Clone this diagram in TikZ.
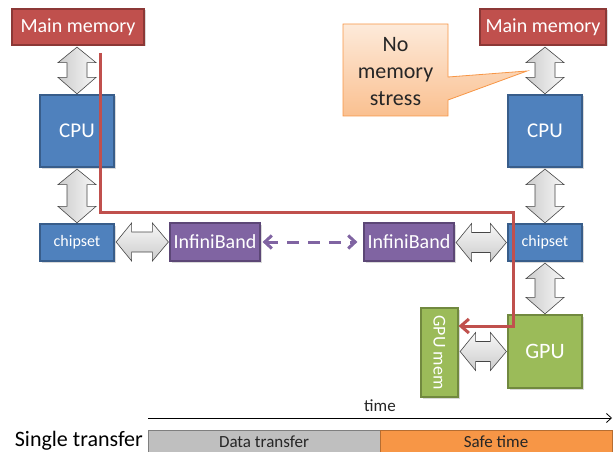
\documentclass[tikz,border=0pt]{standalone}
\usepackage{fontspec}
\setmainfont{Carlito}
\usetikzlibrary{calc,arrows.meta,shadows}
\definecolor{memred}{HTML}{C0504D}
\definecolor{memredd}{HTML}{8C3836}
\definecolor{cpublue}{HTML}{4F81BD}
\definecolor{cpublued}{HTML}{385D8A}
\definecolor{ibpurple}{HTML}{8064A2}
\definecolor{ibpurpled}{HTML}{5C4776}
\definecolor{gpugreen}{HTML}{9BBB59}
\definecolor{gpugreend}{HTML}{71893F}
\definecolor{calfilla}{HTML}{FDEADA}
\definecolor{calfillb}{HTML}{FAC090}
\definecolor{calline}{HTML}{F79646}
\definecolor{safeor}{HTML}{F79646}
\definecolor{safeord}{HTML}{B66D31}
\definecolor{dtgray}{HTML}{BFBFBF}
\definecolor{dtgrayd}{HTML}{7F7F7F}
\definecolor{txtdark}{HTML}{262626}
\newcommand\fsz[1]{\fontsize{#1}{#1}\selectfont}
\newcommand\vbig[2]{%
 \path[bigarr,left color=gray!40,right color=gray!6] let \p1=(#1), \p2=(#2) in
 (\x2,\y1-1.5pt) -- (\x2+19pt,\y1-17pt) -- (\x2+10pt,\y1-17pt) -- (\x2+10pt,\y2+17pt) -- (\x2+19pt,\y2+17pt) -- (\x2,\y2+0.5pt) -- (\x2-19pt,\y2+17pt) -- (\x2-10pt,\y2+17pt) -- (\x2-10pt,\y1-17pt) -- (\x2-19pt,\y1-17pt) -- cycle;}
\newcommand\hbig[2]{%
 \path[bigarr,top color=gray!6,bottom color=gray!40] let \p1=(#1), \p2=(#2) in
 (\x1+1.5pt,\y2) -- (\x1+17pt,\y2+19pt) -- (\x1+17pt,\y2+10pt) -- (\x2-17pt,\y2+10pt) -- (\x2-17pt,\y2+19pt) -- (\x2-1pt,\y2) -- (\x2-17pt,\y2-19pt) -- (\x2-17pt,\y2-10pt) -- (\x1+17pt,\y2-10pt) -- (\x1+17pt,\y2-19pt) -- cycle;}
\begin{document}
\begin{tikzpicture}[x=1pt,y=-1pt,
  box/.style={draw, line width=1.2pt, inner sep=0pt, text=white,
    drop shadow={opacity=0.3, shadow xshift=1.5pt, shadow yshift=-1.5pt}},
  membox/.style={box, fill=memred, draw=memredd, minimum height=36, font=\fsz{20}},
  cpubox/.style={box, fill=cpublue, draw=cpublued, minimum width=74, minimum height=72, font=\fsz{21}},
  chipbox/.style={box, fill=cpublue, draw=cpublued, minimum width=74, minimum height=37, font=\fsz{16}},
  ibbox/.style={box, fill=ibpurple, draw=ibpurpled, minimum width=90, minimum height=38, font=\fsz{20}},
  gpubox/.style={box, fill=gpugreen, draw=gpugreend},
  bigarr/.style={draw=gray!55!black, line width=0.6pt},
  redpath/.style={draw=memred, line width=3pt},
  ibline/.style={draw=ibpurple, line width=3pt, dash pattern=on 12pt off 9pt},
  barbox/.style={draw, line width=1pt, inner sep=0pt, minimum width=232, minimum height=23, font=\fsz{17}, text=txtdark},
  callout/.style={draw=calline, line width=0.8pt, top color=calfilla, bottom color=calfillb}
]
\useasboundingbox (0,0) rectangle (614,452);

% left column
\node[membox, minimum width=132] (mm1) at (78,27) {Main memory};
\node[cpubox] (cpu1) at (77,131) {CPU};
\node[chipbox] (chip1) at (77,242.5) {chipset};
\node[ibbox] (ib1) at (215,242) {InfiniBand};
% right column
\node[ibbox] (ib2) at (409,242) {InfiniBand};
\node[chipbox] (chip2) at (545,242.5) {chipset};
\node[membox, minimum width=126] (mm2) at (543,27) {Main memory};
\node[cpubox] (cpu2) at (545,131) {CPU};
\node[gpubox, minimum width=74, minimum height=73, font=\fsz{22}] (gpu) at (545,351.5) {GPU};
\node[gpubox, minimum width=37, minimum height=89, font=\fsz{18}] (gmem) at (439.5,352.5) {\rotatebox{-90}{GPU mem}};

% big double arrows
\vbig{mm1.south}{cpu1.north}
\vbig{cpu1.south}{chip1.north}
\hbig{chip1.east}{ib1.west}
\hbig{ib2.east}{chip2.west}
\vbig{mm2.south}{cpu2.north}
\vbig{cpu2.south}{chip2.north}
\vbig{chip2.south}{gpu.north}
\hbig{gmem.east}{gpu.west}

% dashed InfiniBand link
\draw[ibline, {Straight Barb[length=7pt,width=13pt]}-{Straight Barb[length=7pt,width=13pt]}, shorten <=2pt, shorten >=6pt] (ib1.east) -- (ib2.west);

% red data path
\coordinate (rs) at (100,53);
\coordinate (rc1) at (100,212);
\coordinate (rc2) at (513,212);
\coordinate (rc3) at (513,326);
\draw[redpath, line join=miter, -{Straight Barb[length=8pt,width=14pt]}] (rs) -- (rc1) -- (rc2) -- (rc3) -- (rc3 -| gmem.east);

% callout
\path[callout] (343,24) -- (448,24) -- (448,77) -- (527,71) -- (448,100) -- (448,116) -- (343,116) -- cycle;
\node[align=center, font=\fsz{22}, text=txtdark, inner sep=0pt] (note) at (395.5,72) {No\\[5pt]memory\\[5pt]stress};

% time line
\coordinate (t0) at (148,418);
\coordinate (t1) at (612,418);
\draw[line width=0.8pt, -{Straight Barb[length=5pt,width=9pt]}] (t0) -- (t1) node[midway, above=3pt, font=\fsz{17}, text=txtdark] (tl) {time};

% bars
\node[barbox, fill=dtgray, draw=dtgrayd] (dt) at (264,441.5) {Data transfer};
\node[barbox, fill=safeor, draw=safeord] (st) at (496,441.5) {Safe time};
\node[anchor=east, font=\fsz{22}, text=black, inner sep=0pt] (single) at (143,441) {Single transfer};
\end{tikzpicture}
\end{document}
